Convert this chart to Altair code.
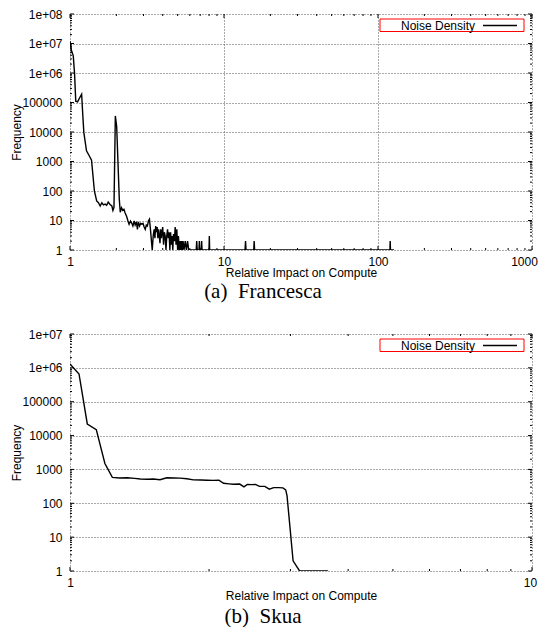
import altair as alt
import pandas as pd

# ---------------- data ----------------
fr_x = [1.00, 1.02, 1.05, 1.07, 1.09, 1.12, 1.16, 1.19, 1.21, 1.23, 1.28, 1.33, 1.38,
        1.44, 1.49, 1.53, 1.57, 1.61, 1.65, 1.69, 1.73, 1.77, 1.82, 1.87, 1.90, 1.93,
        1.97, 2.01, 2.09, 2.12, 2.16, 2.20, 2.24, 2.28, 2.33, 2.38, 2.42, 2.47, 2.52,
        2.56, 2.61, 2.65, 2.70, 2.74, 2.78, 2.83, 2.88, 2.93, 2.98, 3.03, 3.08, 3.13,
        3.18, 3.23, 3.28, 3.33, 3.38, 3.42, 3.47, 3.52, 3.56, 3.60, 3.64, 3.68, 3.72,
        3.76, 3.80, 3.84, 3.88, 3.92, 3.96, 4.00, 4.05, 4.10, 4.15, 4.20, 4.25, 4.30,
        4.35, 4.40, 4.45, 4.50, 4.55, 4.60, 4.65, 4.70, 4.76, 4.82, 4.88, 4.94, 5.00,
        5.06, 5.12, 5.18, 5.24, 5.30, 5.36, 5.42, 5.50, 5.60, 5.70, 5.80, 5.90, 6.60,
        6.65, 6.70, 6.88, 6.92, 6.96, 7.12, 7.16, 7.20, 7.99, 8.03, 8.07, 13.7, 13.8,
        13.9, 15.6, 15.7, 15.8, 119.5, 120.0, 120.5, 127.0]
fr_y = [1.2e7, 6e6, 3.8e6, 1e6, 1.1e5, 1.05e5, 1.5e5, 1.9e5, 4e4, 9.5e3, 2.3e3, 1.6e3, 1.1e3,
        100, 46, 40, 31, 40, 34, 36, 33, 42, 35, 31, 22, 28,
        3.5e4, 1.5e4, 52, 19, 27, 22, 24, 18, 14, 9.6, 7.4, 9.6, 8,
        6.5, 9.6, 7, 9, 5, 9, 6.5, 8, 7.5, 8, 6, 5, 7,
        6.5, 9.6, 11, 5, 2, 1, 3, 5, 2.5, 6.5, 4, 6, 2.5,
        5, 3, 1.7, 5, 2.5, 4, 6, 1.5, 4, 3, 1, 3, 5,
        2.5, 4, 1, 4, 1.5, 3, 1, 3.5, 2, 6, 1.5, 5, 1,
        3, 1, 2, 1, 2, 1, 2, 1, 2, 1, 2, 1, 1,
        2, 1, 1, 2, 1, 1, 2, 1, 1, 3, 1, 1, 2,
        1, 1, 2, 1, 1, 2, 1, 1]

sk_x = [1.00, 1.046, 1.09, 1.14, 1.19, 1.235, 1.28, 1.33, 1.38, 1.42, 1.47, 1.515, 1.566,
        1.62, 1.68, 1.73, 1.79, 1.85, 1.92, 1.98, 2.04, 2.10, 2.15, 2.21, 2.26, 2.33,
        2.38, 2.42, 2.47, 2.52, 2.57, 2.64, 2.70, 2.76, 2.83, 2.89, 2.93, 2.95, 3.04,
        3.14, 3.62]
sk_y = [1.3e6, 6.6e5, 2.2e4, 1.5e4, 1.5e3, 580, 560, 570, 545, 520, 515, 520, 495,
        565, 560, 555, 530, 490, 485, 480, 475, 480, 390, 375, 365, 370,
        305, 360, 355, 360, 315, 315, 262, 290, 290, 285, 250, 166, 2,
        1, 1]

fr_x_decades = [1, 10, 100, 1000]
fr_y_decades = [1, 10, 100, 1000, 10000, 100000, 1e6, 1e7, 1e8]
sk_x_decades = [1, 10]
sk_y_decades = [1, 10, 100, 1000, 10000, 100000, 1e6, 1e7]

legend_label = ["Noise Density"]
x_title = "Relative Impact on Compute"
y_title = "Frequency"

FONT = "Liberation Sans"
SERIF = "Liberation Serif"
W = 462
GRID = "#555555"


def minors(dec):
    return [m * d for d in dec[:-1] for m in range(2, 10)]


def panel(xs, ys, xdec, ydec, h, caption, cap_offset, last_shift, title_y):
    xscale = alt.Scale(type="log", domain=[xdec[0], xdec[-1]], nice=False)
    yscale = alt.Scale(type="log", domain=[ydec[0], ydec[-1]], nice=False)
    df = pd.DataFrame({"x": xs, "y": ys})

    xaxis = alt.Axis(
        values=xdec, format="d", grid=True, gridDash=[1, 2], gridColor=GRID,
        ticks=False, tickSize=0, domain=False, labelFlush=False, labelOverlap=False,
        labelBaseline="alphabetic", labelPadding=15.6,
        labelOffset={"condition": {"test": f"datum.value >= {xdec[-1]}", "value": last_shift},
                     "value": 0},
        title=x_title, titleY=title_y, titleBaseline="alphabetic")
    yaxis = alt.Axis(
        values=ydec, grid=True, gridDash=[1, 2], gridColor=GRID,
        ticks=False, tickSize=0, domain=False, labelOverlap=False, labelFlush=False,
        labelPadding=8, labelBaseline="middle",
        labelExpr="datum.value >= 1e6 ? '1e+0' + round(log(datum.value)/LN10) : format(datum.value, 'd')",
        title=y_title, titleX=-49.5, titleY=h / 2, titleAngle=270,
        titleBaseline="alphabetic", titleAlign="center")

    line = alt.Chart(df).mark_line(color="black", strokeWidth=1.4, clip=True).encode(
        x=alt.X("x:Q", scale=xscale, axis=xaxis, title=x_title),
        y=alt.Y("y:Q", scale=yscale, axis=yaxis, title=y_title),
    )

    layers = [line]
    for vals, ln in ((xdec, 4), (minors(xdec), 2)):
        tdf = pd.DataFrame({"x": vals})
        for y0, y1 in ((0, ln), (h, h - ln)):
            layers.append(alt.Chart(tdf).mark_rule(color="black", strokeWidth=1).encode(
                x=alt.X("x:Q", scale=xscale, axis=xaxis, title=x_title),
                y=alt.value(y0), y2=alt.value(y1)))
    for vals, ln in ((ydec, 4), (minors(ydec), 2)):
        tdf = pd.DataFrame({"y": vals})
        for x0, x1 in ((0, ln), (W, W - ln)):
            layers.append(alt.Chart(tdf).mark_rule(color="black", strokeWidth=1).encode(
                y=alt.Y("y:Q", scale=yscale, axis=yaxis, title=y_title),
                x=alt.value(x0), x2=alt.value(x1)))

    ldf = pd.DataFrame({"label": legend_label})
    layers.append(alt.Chart(ldf).mark_rect(fill="white", stroke="#ff0000", strokeWidth=1).encode(
        x=alt.value(310), x2=alt.value(454), y=alt.value(5), y2=alt.value(17.5)))
    layers.append(alt.Chart(ldf).mark_text(align="right", baseline="middle", font=FONT,
                                          fontSize=12, color="black").encode(
        text="label:N", x=alt.value(405), y=alt.value(11.5)))
    layers.append(alt.Chart(ldf).mark_rule(color="black", strokeWidth=1.4).encode(
        x=alt.value(413), x2=alt.value(447), y=alt.value(11.5)))

    return alt.layer(*layers).properties(
        width=W, height=h,
        title=alt.TitleParams(caption, orient="bottom", font=SERIF, fontSize=21,
                              fontWeight="normal", color="black", anchor="middle",
                              dx=-38, offset=cap_offset))


top = panel(fr_x, fr_y, fr_x_decades, fr_y_decades, 236, "(a)\u2002Francesca", 2, -8, 26.6)
bottom = panel(sk_x, sk_y, sk_x_decades, sk_y_decades, 237, "(b)\u2002Skua", 4, -2, 28.6)

chart = alt.vconcat(top, bottom, spacing=84, bounds="flush").properties(
    padding={"left": 2, "top": 0, "right": 0, "bottom": 0}
).configure_view(stroke=None).configure_axis(
    labelFont=FONT, labelFontSize=12, labelColor="black",
    titleFont=FONT, titleFontSize=12, titleFontWeight="normal", titleColor="black"
).configure_title(font=SERIF)

chart.save("out.html", embed_options={"renderer": "svg", "actions": False})
